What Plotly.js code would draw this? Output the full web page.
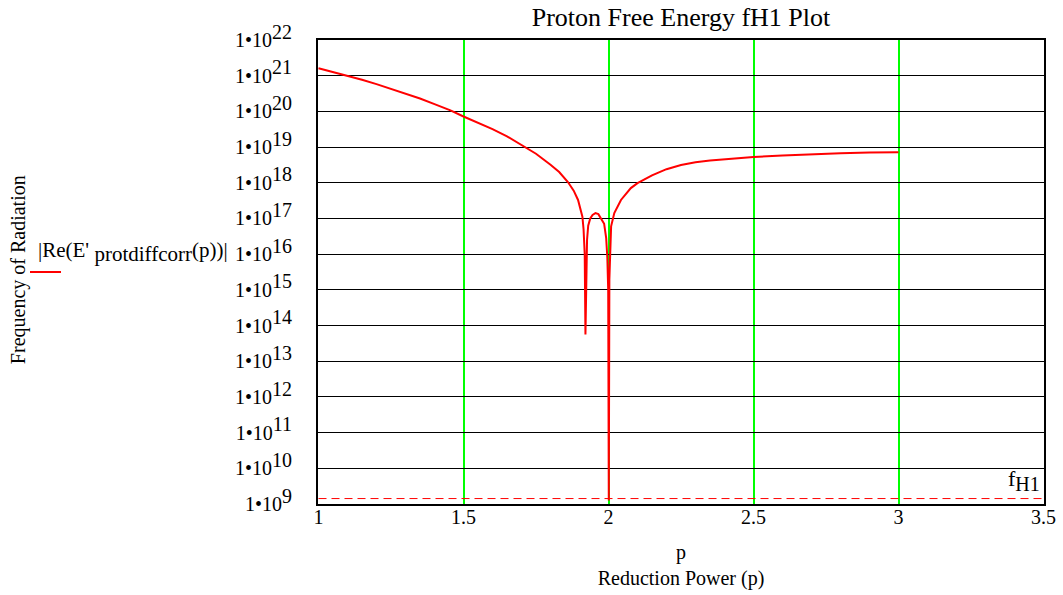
<!DOCTYPE html>
<html>
<head>
<meta charset="utf-8">
<script src="https://cdn.plot.ly/plotly-3.0.1.min.js"></script>
<style>html,body{margin:0;padding:0;background:#fff;}#chart{width:1063px;height:595px;}</style>
</head>
<body>
<div id="chart"></div>
<script>
// Reduction power p
var pValues = [1.0, 1.05, 1.1, 1.15, 1.2, 1.25, 1.3, 1.35, 1.4, 1.455, 1.5, 1.55, 1.6, 1.65, 1.7, 1.75, 1.8, 1.83, 1.86, 1.88, 1.895, 1.905,
  1.91, 1.914, 1.918, 1.9205, 1.923, 1.926, 1.93, 1.937, 1.945, 1.955, 1.965, 1.975, 1.985, 1.992, 1.996, 1.999,
  2.001, 2.003, 2.006, 2.009, 2.02, 2.043, 2.077, 2.1, 2.15, 2.2, 2.25, 2.3, 2.35, 2.4, 2.5, 2.6, 2.7, 2.8, 2.9, 3.0];
// |Re(E' protdiffcorr(p))|
var energyValues = [1.62e21, 1.27e21, 1.0e21, 7.7e20, 5.8e20, 4.3e20, 3.2e20, 2.3e20, 1.6e20, 1.07e20, 7.2e19, 4.9e19, 3.2e19, 2.0e19, 1.17e19, 6.5e18, 3.2e18, 2.0e18, 1.05e18, 6.0e17, 3.3e17, 1.78e17,
  1.12e17, 5.0e16, 1.0e16, 5.6e13, 6.3e15, 2.5e16, 6.3e16, 1.0e17, 1.26e17, 1.41e17, 1.32e17, 1.0e17, 7.1e16, 2.8e16, 7.9e15, 1.0e15,
  1.26e9, 2.0e15, 1.6e16, 6.0e16, 1.41e17, 3.3e17, 7.1e17, 9.8e17, 1.62e18, 2.4e18, 3.16e18, 3.76e18, 4.2e18, 4.57e18, 5.25e18, 5.8e18, 6.3e18, 6.7e18, 7.0e18, 7.2e18];
// Hydrogen line frequency fH1
var fH1 = 1.42040575e9;
var fH1Range = [1, 3.5];

var xTickVals = [1, 1.5, 2, 2.5, 3, 3.5];
var xTickText = ["1", "1.5", "2", "2.5", "3", "3.5"];
var yExponents = [9, 10, 11, 12, 13, 14, 15, 16, 17, 18, 19, 20, 21, 22];

var FONT = "Liberation Serif, Times New Roman, serif";
var yTickVals = yExponents.map(function (e) { return Math.pow(10, e); });
var yTickText = yExponents.map(function (e) {
  return "1\u202210<sup><span style=\"font-size:20px\">" + e + "</span></sup>";
});

var traces = [
  {
    x: pValues, y: energyValues, type: "scatter", mode: "lines",
    line: {color: "#ff0000", width: 2}, hoverinfo: "skip"
  },
  {
    x: fH1Range, y: [fH1, fH1], type: "scatter", mode: "lines",
    line: {color: "#ff0000", width: 1, dash: "8px,5px"}, hoverinfo: "skip"
  }
];

// plot area 726 px wide: 290 px per unit, padded half a pixel each side
var PAD = 0.5 / 290;
var PW = 726;

var layout = {
  width: 1063, height: 595,
  margin: {l: 318, r: 19, t: 40, b: 91},
  paper_bgcolor: "#ffffff", plot_bgcolor: "#ffffff",
  showlegend: false,
  font: {family: FONT, size: 20, color: "#000"},
  title: {
    text: "Proton Free Energy fH1 Plot",
    font: {family: FONT, size: 26, color: "#000"},
    x: 0.5, xref: "paper", xanchor: "center",
    y: 1 - 17 / 595, yref: "container", yanchor: "middle"
  },
  xaxis: {
    range: [1 - PAD, 3.5 + PAD], tickvals: xTickVals, ticktext: xTickText,
    showgrid: true, gridcolor: "#00ff00", gridwidth: 2,
    zeroline: false, ticks: "", ticklabelstandoff: -6,
    showline: true, linecolor: "#000", linewidth: 2, mirror: true,
    tickfont: {family: FONT, size: 20, color: "#000"},
    title: {text: "p<br>Reduction Power (p)", font: {family: FONT, size: 20, color: "#000"}, standoff: 18}
  },
  yaxis: {
    type: "log", range: [9, 22], tickvals: yTickVals, ticktext: yTickText,
    showgrid: true, gridcolor: "#000", gridwidth: 1,
    zeroline: false, ticks: "", ticklabelstandoff: 20,
    showline: true, linecolor: "#000", linewidth: 2, mirror: true,
    tickfont: {family: FONT, size: 20, color: "#000"}
  },
  annotations: [
    {
      text: "Frequency of Radiation", xref: "paper", yref: "paper",
      x: -300 / PW, y: 0.504, textangle: -90, showarrow: false,
      font: {family: FONT, size: 20, color: "#000"}, xanchor: "center", yanchor: "middle"
    },
    {
      text: "|Re(E'<sub><span style=\"font-size:21px\"> protdiffcorr</span></sub>(p))|",
      xref: "paper", yref: "paper", x: -282 / PW, y: (504 - 252) / 464,
      showarrow: false, xanchor: "left", yanchor: "middle",
      font: {family: FONT, size: 21, color: "#000"}
    },
    {
      text: "f<sub><span style=\"font-size:20px\">H1</span></sub>",
      xref: "paper", yref: "paper", x: 1 - 2 / PW, y: (504 - 497) / 464,
      showarrow: false, xanchor: "right", yanchor: "bottom",
      font: {family: FONT, size: 22, color: "#000"}
    }
  ],
  shapes: [
    {
      type: "line", xref: "paper", yref: "paper",
      x0: -288 / PW, x1: -257 / PW, y0: (504 - 272) / 464, y1: (504 - 272) / 464,
      line: {color: "#ff0000", width: 2}
    }
  ]
};

Plotly.newPlot("chart", traces, layout, {staticPlot: true, displayModeBar: false});
</script>
</body>
</html>
